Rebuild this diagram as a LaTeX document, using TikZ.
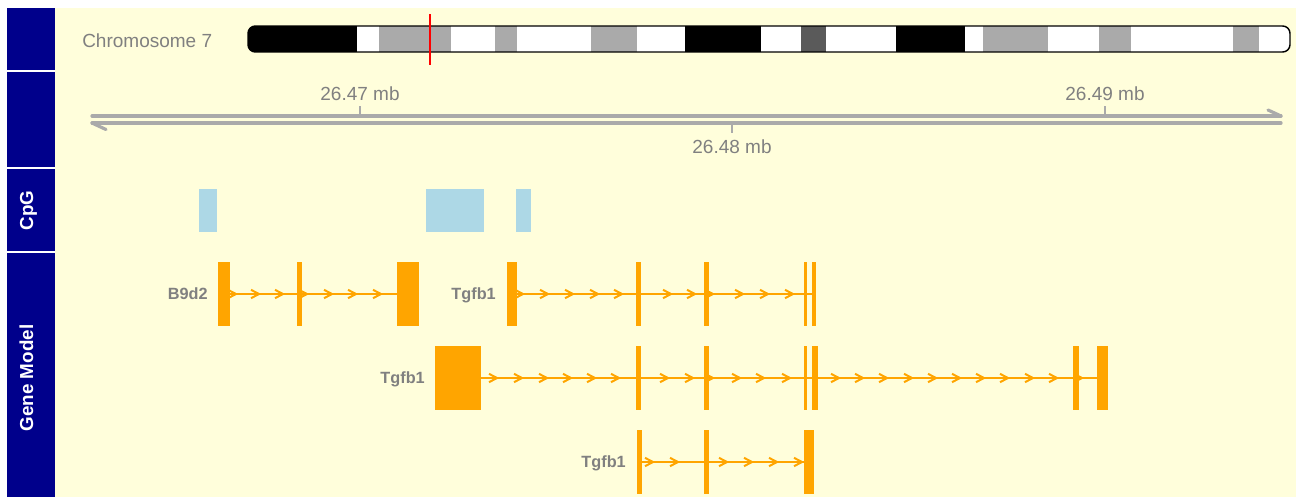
\documentclass[tikz,border=0pt]{standalone}
\usepackage{fontspec}
\setmainfont{Liberation Sans}
\definecolor{panelbg}{HTML}{FFFEDB}
\definecolor{titlebg}{HTML}{00008B}
\definecolor{txtgrey}{HTML}{808080}
\definecolor{axgrey}{HTML}{AAAAAA}
\definecolor{bandgrey}{HTML}{AAAAAA}
\definecolor{banddark}{HTML}{5A5A5A}
\definecolor{gene}{HTML}{FFA500}
\definecolor{cpg}{HTML}{ADD8E6}
\pgfdeclarelayer{bg}
\pgfdeclarelayer{back}
\pgfsetlayers{bg,back,main}
\newcommand\exonbox[4]{\node[exon,minimum width={(#3-#2)*0.75pt}] (#1) at ({(#2+#3)/2},#4) {};}
\newcommand\cpgisland[3]{\node[cpgbox,minimum width={(#3-#2)*0.75pt}] (#1) at ({(#2+#3)/2},210.5) {};}
\newcommand\chev[2]{\draw[chevron] ({#1-8},{#2-4.2}) -- (#1,#2) -- ({#1-8},{#2+4.2});}
\begin{document}
\begin{tikzpicture}[x=0.75pt,y=-0.75pt,
  exon/.style={rectangle,fill=gene,inner sep=0pt,minimum height=48pt},
  cpgbox/.style={rectangle,fill=cpg,inner sep=0pt,minimum height=32.25pt},
  intron/.style={draw=gene,line width=1.6pt},
  chevron/.style={draw=gene,line width=1.5pt},
  axisline/.style={draw=axgrey,line width=2.4pt,line cap=round},
  ticks/.style={draw=axgrey,line width=1.6pt},
  axlabel/.style={text=txtgrey,font=\fontsize{14.25}{16}\selectfont,inner sep=0pt,anchor=base},
  genelabel/.style={text=txtgrey,font=\bfseries\fontsize{12.2}{14}\selectfont,inner sep=0pt,anchor=base east},
  titlelabel/.style={text=white,font=\bfseries\fontsize{14.1}{16}\selectfont,inner sep=0pt,anchor=base,rotate=90}]
\useasboundingbox (0,0) rectangle (1296,497);
\begin{pgfonlayer}{bg}
  \fill[panelbg] (55,8) rectangle (1296,497);
  \fill[titlebg] (7,8) rectangle (55,70);
  \fill[titlebg] (7,72) rectangle (55,167);
  \fill[titlebg] (7,169) rectangle (55,251);
  \fill[titlebg] (7,253) rectangle (55,497);
\end{pgfonlayer}
\node[titlelabel] (tcpg) at (33,210.5) {CpG};
\node[titlelabel] (tgene) at (33,378) {Gene Model};

% ideogram
\node[axlabel,anchor=base west] (chrlab) at (82,47.7) {Chromosome 7};
\begin{scope}
  \clip[rounded corners=5.5pt] (248,26) rectangle (1290,52);
  \foreach \a/\b/\c in {248/357/black,357/379/white,379/451/bandgrey,451/495/white,495/517/bandgrey,517/591/white,591/637/bandgrey,637/685/white,685/761/black,761/801/white,801/826/banddark,826/896/white,896/965/black,965/983/white,983/1048/bandgrey,1048/1099/white,1099/1131/bandgrey,1131/1233/white,1233/1259/bandgrey,1259/1290/white}
    \fill[\c] (\a,26) rectangle (\b,52);
\end{scope}
\draw[black,line width=1.1pt,rounded corners=5.5pt] (248,26) rectangle (1290,52);
\draw[red,line width=1.5pt] (430,14) -- (430,65);

% genome axis
\coordinate (axL1) at (92,116);
\coordinate (axR1) at (1281,116);
\coordinate (axL2) at (92,123);
\coordinate (axR2) at (1281,123);
\coordinate (axLh) at (106,129.5);
\coordinate (axRh) at (1268,110);
\draw[axisline] (axL1) -- (axR1);
\draw[axisline] (axL2) -- (axR2);
\draw[axisline] (axL2) -- (axLh);
\draw[axisline] (axR1) -- (axRh);
\draw[ticks] (360,116) -- (360,106);
\draw[ticks] (1105,116) -- (1105,106);
\draw[ticks] (732,123) -- (732,133);
\node[axlabel] (l47) at (360,100.5) {26.47 mb};
\node[axlabel] (l49) at (1105,100.5) {26.49 mb};
\node[axlabel] (l48) at (732,153) {26.48 mb};

% CpG islands
\cpgisland{c1}{199}{217}
\cpgisland{c2}{426}{484}
\cpgisland{c3}{516}{531}

% gene models
\exonbox{b1}{218}{230}{294}
\exonbox{b2}{297}{302}{294}
\exonbox{b3}{397}{419}{294}
\exonbox{p1}{507}{517}{294}
\exonbox{p2}{636}{641}{294}
\exonbox{p3}{704}{709}{294}
\exonbox{p4}{804}{807}{294}
\exonbox{p5}{812}{816}{294}
\exonbox{q1}{435}{481}{378}
\exonbox{q2}{636}{641}{378}
\exonbox{q3}{704}{709}{378}
\exonbox{q4}{804}{807}{378}
\exonbox{q5}{812}{818}{378}
\exonbox{q6}{1073}{1079}{378}
\exonbox{q7}{1097}{1108}{378}
\exonbox{r1}{637}{642}{462}
\exonbox{r2}{704}{709}{462}
\exonbox{r3}{804}{814}{462}

\begin{pgfonlayer}{back}
  \draw[intron] (b1.east) -- (b2.west);
  \draw[intron] (b2.east) -- (b3.west);
  \draw[intron] (p1.east) -- (p2.west);
  \draw[intron] (p2.east) -- (p3.west);
  \draw[intron] (p3.east) -- (p4.west);
  \draw[intron] (p4.east) -- (p5.west);
  \draw[intron] (q1.east) -- (q2.west);
  \draw[intron] (q2.east) -- (q3.west);
  \draw[intron] (q3.east) -- (q4.west);
  \draw[intron] (q4.east) -- (q5.west);
  \draw[intron] (q5.east) -- (q6.west);
  \draw[intron] (q6.east) -- (q7.west);
  \draw[intron] (r1.east) -- (r2.west);
  \draw[intron] (r2.east) -- (r3.west);
  \foreach \x in {236,259,283,307,332,356,381} {\chev{\x}{294}}
  \foreach \x in {523,548,573,598,622,671,695,713,743,768,793} {\chev{\x}{294}}
  \foreach \x in {497,522,547,571,595,619,668,693,713,740,764,790,839,863,887,912,936,960,984,1008,1033,1057,1082} {\chev{\x}{378}}
  \foreach \x in {653,678,727,752,777,802} {\chev{\x}{462}}
\end{pgfonlayer}

\node[genelabel] (gb9) at (208,299.8) {B9d2};
\node[genelabel] (gt1) at (496,299.8) {Tgfb1};
\node[genelabel] (gt2) at (425,383.8) {Tgfb1};
\node[genelabel] (gt3) at (626,467.8) {Tgfb1};
\end{tikzpicture}
\end{document}
